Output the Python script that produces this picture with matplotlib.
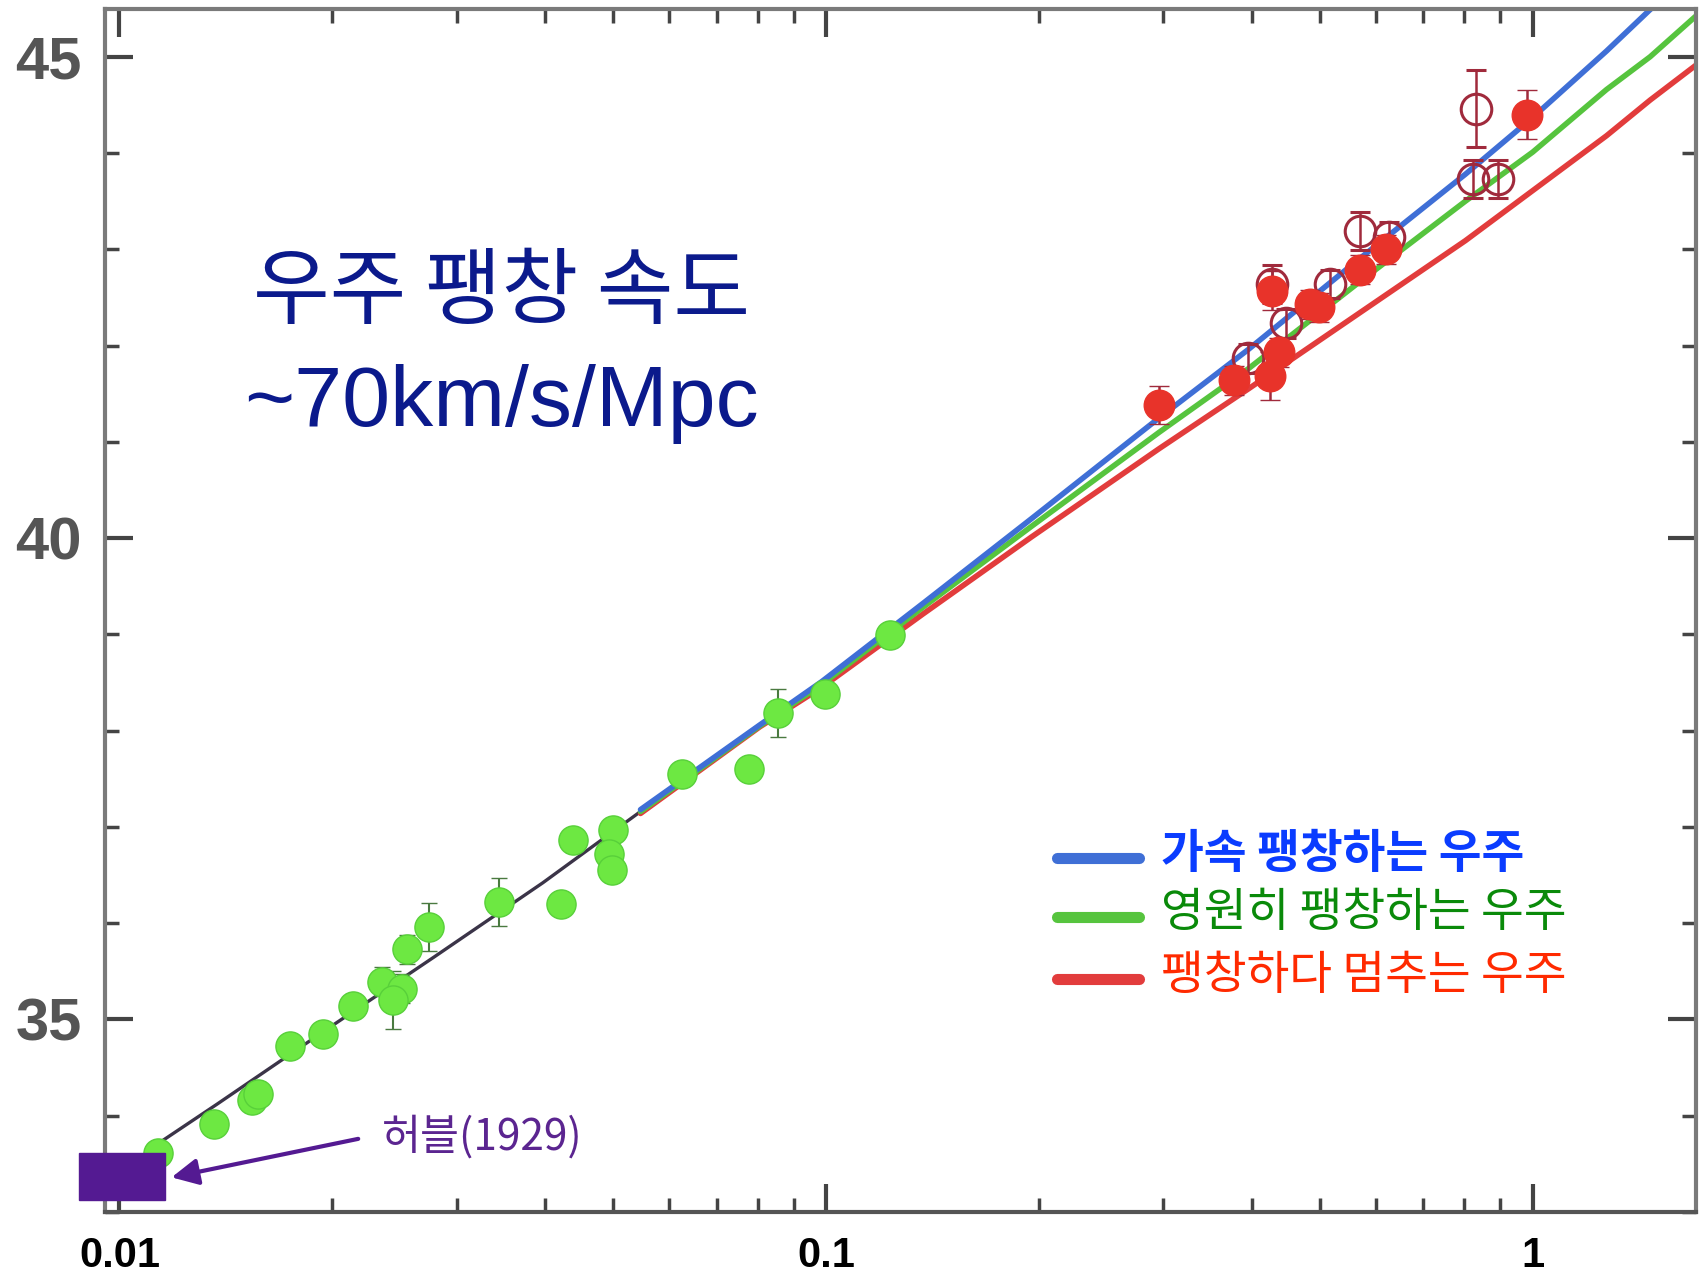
import matplotlib.pyplot as plt
from matplotlib.lines import Line2D
from matplotlib.patches import Rectangle
from matplotlib.ticker import LogLocator, MultipleLocator, NullFormatter

plt.rcParams['font.family'] = ['Noto Sans CJK KR', 'DejaVu Sans']

# common low-z part of the models (redshift, distance modulus)
base_z = [0.01092, 0.01374, 0.01958, 0.02789, 0.03973, 0.05462]
base_mu = [33.63, 34.12, 34.89, 35.65, 36.42, 37.16]

# the three model curves above z ~ 0.05
model_z = [0.05462, 0.08058, 0.09860, 0.1370, 0.1951, 0.2961, 0.3959, 0.5638, 0.8030, 1.0, 1.272, 1.466, 1.700]
accel_mu = [37.18, 38.06, 38.51, 39.32, 40.20, 41.25, 41.96, 42.88, 43.78, 44.37, 45.06, 45.49, 45.9]
coast_mu = [37.16, 38.05, 38.48, 39.28, 40.12, 41.10, 41.76, 42.64, 43.50, 44.01, 44.66, 45.0, 45.42]
stop_mu = [37.14, 38.04, 38.45, 39.21, 40.01, 40.93, 41.55, 42.32, 43.09, 43.61, 44.18, 44.55, 44.91]

# nearby supernovae (green)
green_z = [0.01132, 0.01360, 0.01539, 0.01572, 0.01742, 0.01944, 0.02139, 0.02353, 0.02508, 0.02438,
           0.02553, 0.02740, 0.03448, 0.04217, 0.04386, 0.05000, 0.04930, 0.04970, 0.06249, 0.07782,
           0.08558, 0.09965, 0.1232]
green_mu = [33.61, 33.91, 34.16, 34.23, 34.72, 34.85, 35.14, 35.39, 35.32, 35.20,
            35.73, 35.96, 36.22, 36.20, 36.86, 36.97, 36.72, 36.55, 37.55, 37.60,
            38.18, 38.38, 38.99]
green_err = [0.10, 0.10, 0.12, 0.12, 0.10, 0.10, 0.12, 0.15, 0.15, 0.30,
             0.15, 0.25, 0.25, 0.10, 0.12, 0.12, 0.12, 0.12, 0.12, 0.10,
             0.25, 0.12, 0.12]

# distant supernovae, filled and open (red)
red_z = [0.2961, 0.378, 0.4249, 0.4371, 0.428, 0.4843, 0.4981, 0.5699, 0.6204, 0.9824]
red_mu = [41.385, 41.64, 41.68, 41.93, 42.57, 42.43, 42.40, 42.79, 43.00, 44.40]
red_err = [0.2, 0.15, 0.25, 0.15, 0.2, 0.15, 0.15, 0.15, 0.15, 0.25]

open_z = [0.3959, 0.4481, 0.428, 0.5161, 0.5699, 0.6270, 0.8320, 0.8233, 0.8929]
open_mu = [41.87, 42.23, 42.64, 42.64, 43.19, 43.13, 44.46, 43.73, 43.73]
open_err = [0.15, 0.15, 0.2, 0.15, 0.2, 0.15, 0.4, 0.2, 0.2]

# Hubble's 1929 range
hubble_z = (0.00877, 0.0116)
hubble_mu = (33.13, 33.615)

legend_labels = ['가속 팽창하는 우주', '영원히 팽창하는 우주', '팽창하다 멈추는 우주']
line_colors = ['#3f6fd6', '#56c43e', '#e23c3c']
text_colors = ['#0a3cff', '#0a8a0a', '#ff2a00']

fig = plt.figure(figsize=(17.02, 12.75), dpi=100)
ax = fig.add_axes([0.0619, 0.0494, 0.9343, 0.9438])
ax.set_xscale('log')
ax.set_xlim(0.00955, 1.70)
ax.set_ylim(33.0, 45.5)

ax.plot(base_z, base_mu, color='#3b3448', lw=2.4, zorder=2)
for mu, c in zip([stop_mu, coast_mu, accel_mu], line_colors[::-1]):
    ax.plot(model_z, mu, color=c, lw=4, solid_capstyle='round', zorder=2)

ax.errorbar(green_z, green_mu, yerr=green_err, fmt='o', ms=21, mfc='#6de842', mec='#58d03a',
            ecolor='#4a7a40', elinewidth=1.5, capsize=6, zorder=3)
ax.errorbar(open_z, open_mu, yerr=open_err, fmt='o', ms=22, mfc='none', mec='#a02a3c', mew=2.2,
            ecolor='#a02a3c', elinewidth=1.8, capsize=7, zorder=3)
ax.errorbar(red_z, red_mu, yerr=red_err, fmt='o', ms=22, mfc='#e8332a', mec='#e8332a',
            ecolor='#a02a3c', elinewidth=1.8, capsize=7, zorder=4)

ax.add_patch(Rectangle((hubble_z[0], hubble_mu[0]), hubble_z[1] - hubble_z[0],
                       hubble_mu[1] - hubble_mu[0], color='#541a92', clip_on=False, zorder=5))
ax.annotate('', xy=(0.01185, 33.36), xytext=(0.02177, 33.76),
            arrowprops=dict(arrowstyle='-|>', lw=3, color='#541a92', mutation_scale=40,
                            shrinkA=0, shrinkB=0), zorder=5)
fig.text(0.2245, 0.108, '허블(1929)', fontsize=30.5, color='#5b2590', ha='left', va='center')

# axes styling
for sp in ax.spines.values():
    sp.set_linewidth(3)
    sp.set_color('#7a7a7a')
ax.spines['bottom'].set_color('#555555')

ax.set_xticks([0.01, 0.1, 1], labels=['0.01', '0.1', '1'], fontsize=30, fontweight='bold',
              color='black', family=['Liberation Sans Narrow', 'Liberation Sans'])
ax.xaxis.set_minor_locator(LogLocator(base=10, subs=range(2, 10)))
ax.xaxis.set_minor_formatter(NullFormatter())
ax.set_yticks([35, 40, 45], labels=['35', '40', '45'], fontsize=43, fontweight='bold',
              color='#555555', family=['Liberation Sans', 'DejaVu Sans'])
ax.yaxis.set_minor_locator(MultipleLocator(1))
ax.tick_params(which='both', direction='in', top=True, right=True, color='#444444')
ax.tick_params(which='major', length=20, width=3)
ax.tick_params(which='minor', length=10, width=2.5)
ax.tick_params(axis='x', pad=17)
ax.tick_params(axis='y', pad=17)

# title text
fig.text(0.2946, 0.770, '우주 팽창 속도', fontsize=60, color='#0b1a8c', ha='center', va='center')
fig.text(0.2946, 0.683, '~70km/s/Mpc', fontsize=62, color='#0b1a8c', ha='center', va='center',
         family=['Liberation Sans', 'DejaVu Sans'])

# legend
leg_y = [0.330, 0.284, 0.235]
for i, (lab, lc, tc) in enumerate(zip(legend_labels, line_colors, text_colors)):
    fig.add_artist(Line2D([0.621, 0.669], [leg_y[i] - 0.003, leg_y[i] - 0.003], transform=fig.transFigure,
                          color=lc, lw=8, solid_capstyle='round'))
    fig.text(0.6824, leg_y[i], lab, fontsize=33.5, color=tc, ha='left', va='center',
             fontweight='bold' if i == 0 else 'normal')

fig.savefig('out.png', dpi=100, facecolor='white')
